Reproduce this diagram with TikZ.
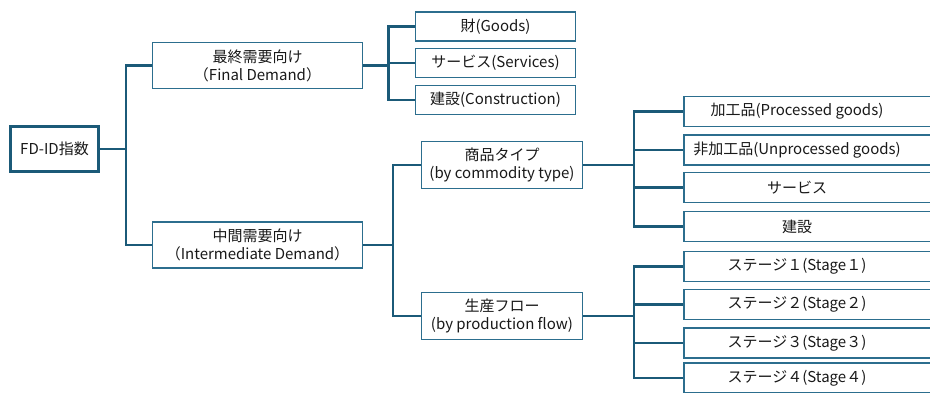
\documentclass[tikz,border=0pt]{standalone}
\usepackage{fontspec}
\setmainfont{Noto Sans CJK JP}
\definecolor{linkblue}{HTML}{1B5A78}
\definecolor{boxblue}{HTML}{2C6E8E}
\newcommand{\lefttext}[1]{\makebox[226pt]{#1}\hspace{40pt}}

\begin{document}
\begin{tikzpicture}[
        x=1pt, y=1pt,
        node distance=200pt,
        font=\fontsize{15}{18}\selectfont,
        box/.style={rectangle, draw=boxblue, line width=1.2pt, fill=white, text=black!90, align=center, inner sep=0pt},
        rootbox/.style={box, draw=linkblue, line width=3pt, minimum width=88pt, minimum height=45pt},
        catbox/.style={box, minimum width=210pt, minimum height=46pt},
        subbox/.style={box, minimum width=161pt, minimum height=47pt},
        leafbox/.style={box, minimum width=160pt, minimum height=29pt},
        widebox/.style={box, minimum height=30pt},
        link/.style={draw=linkblue, line width=2.6pt}
    ]
    \useasboundingbox (0,0) rectangle (930,-392);

    \node[rootbox] at (54.5,-149) (fdid) {FD-ID指数};
    \node[catbox, right of=fdid, xshift=3pt, yshift=83.5pt] (final) {最終需要向け\\（Final Demand）};
    \node[catbox, right of=fdid, xshift=3pt, yshift=-96pt] (inter) {中間需要向け\\（Intermediate Demand）};

    \node[leafbox, right of=final, xshift=38pt, yshift=39pt] (goods) {財(Goods)};
    \node[leafbox, right of=final, xshift=38pt, yshift=2.5pt] (serv) {サービス(Services)};
    \node[leafbox, right of=final, xshift=38pt, yshift=-34.5pt] (cons) {建設(Construction)};

    \node[subbox, right of=inter, xshift=44.5pt, yshift=80pt] (comm) {商品タイプ\\(by commodity type)};
    \node[subbox, right of=inter, xshift=44.5pt, yshift=-71pt] (prod) {生産フロー\\(by production flow)};

    \node[widebox, right of=comm, xshift=115pt, yshift=53.5pt] (proc) {\lefttext{加工品(Processed goods)}};
    \node[widebox, right of=comm, xshift=115pt, yshift=15pt] (unproc) {\lefttext{非加工品(Unprocessed goods)}};
    \node[widebox, right of=comm, xshift=115pt, yshift=-22.5pt] (cserv) {\lefttext{サービス}};
    \node[widebox, right of=comm, xshift=115pt, yshift=-61.5pt] (ccons) {\lefttext{建設}};

    \node[widebox, right of=prod, xshift=115pt, yshift=49.5pt] (stg1) {\lefttext{ステージ１(Stage１)}};
    \node[widebox, right of=prod, xshift=115pt, yshift=11.5pt] (stg2) {\lefttext{ステージ２(Stage２)}};
    \node[widebox, right of=prod, xshift=115pt, yshift=-27pt] (stg3) {\lefttext{ステージ３(Stage３)}};
    \node[widebox, right of=prod, xshift=115pt, yshift=-62pt] (stg4) {\lefttext{ステージ４(Stage４)}};

    % index -> demand
    \draw[link] (fdid.east) -- ++(26,0) |- (final.west);
    \draw[link] (fdid.east) -- ++(26,0) |- (inter.west);

    % final demand
    \draw[link] (final.east) -- ++(25.5,0) |- (goods.west);
    \draw[link] (final.east) -- ++(25.5,0) |- (serv.west);
    \draw[link] (final.east) -- ++(25.5,0) |- (cons.west);

    % intermediate demand
    \draw[link] (inter.east) -- ++(30,0) |- (comm.west);
    \draw[link] (inter.east) -- ++(30,0) |- (prod.west);

    \draw[link] (comm.east) -- ++(51,0) |- (proc.west);
    \draw[link] (comm.east) -- ++(51,0) |- (unproc.west);
    \draw[link] (comm.east) -- ++(51,0) |- (cserv.west);
    \draw[link] (comm.east) -- ++(51,0) |- (ccons.west);

    \draw[link] (prod.east) -- ++(51,0) |- (stg1.west);
    \draw[link] (prod.east) -- ++(51,0) |- (stg2.west);
    \draw[link] (prod.east) -- ++(51,0) |- (stg3.west);
    \draw[link] (prod.east) -- ++(51,0) |- (stg4.west);

\end{tikzpicture}
\end{document}
